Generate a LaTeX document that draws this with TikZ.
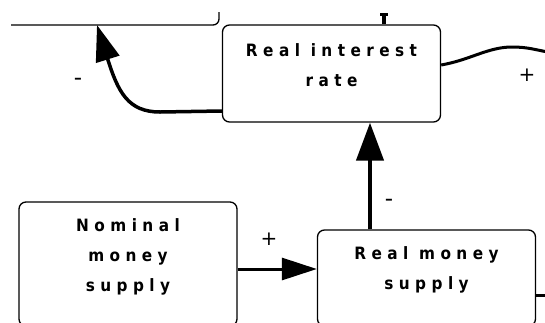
\documentclass[tikz,border=0pt]{standalone}
\usepackage{fontspec}
\setmainfont{DejaVu Sans}
\newfontfamily\boxfont[LetterSpace=32]{DejaVu Sans Condensed}
\usetikzlibrary{arrows.meta}
\tikzset{
  stock/.style={draw, line width=1.3pt, rounded corners=7pt,
    minimum width=218pt},
  stocktext/.style={align=center, inner sep=0pt,
    font=\boxfont\bfseries\fontsize{17pt}{30pt}\selectfont},
  link/.style={line width=3pt},
  sign/.style={font=\fontsize{20pt}{20pt}\selectfont, inner sep=0pt},
  minus/.style={font=\fontsize{23pt}{23pt}\selectfont, inner sep=0pt}
}
\begin{document}
\begin{tikzpicture}[x=1pt,y=-1pt]
\useasboundingbox (0,0) rectangle (545,322);

% boxes
\node[stock, minimum height=97pt] (rir) at (331.5,73.5) {};
\node[stocktext] (rirt) at (331.5,65.5) {Real interest\\rate};
\node[stock, minimum height=124pt] (nom) at (128,264) {};
\node[stocktext] (nomt) at (128,256.5) {Nominal\\money\\supply};
\node[stock, minimum height=96pt] (rms) at (426.5,278) {};
\node[stocktext] (rmst) at (426.5,269.5) {Real money\\supply};

% partly visible stock above, cut off at the top
\begin{scope}
  \clip (0,12) rectangle (545,322);
  \draw[line width=1.3pt, rounded corners=6pt] (11,25) -- (219,25) -- (219,0);
  \coordinate (up) at (97,25);
\end{scope}
\coordinate (tstem) at (384,24);
\draw[line width=4pt] (tstem) -- ++(0,-10);
\draw[line width=3pt] ([xshift=-4pt,yshift=9.5pt]tstem) -- ++(8,0);

% connectors
\coordinate (rirw) at (rir.west |- 0,111);
\draw[link, line width=3.5pt, -{Triangle[length=36pt,width=24pt]}] (rirw) -- (160,112)
  .. controls (128,112) and (118,92) .. (up);
\coordinate (rire) at (rir.east |- 0,65);
\coordinate (offr) at (548,52);
\draw[link] (rire) .. controls (470,60) and (488,47) .. (512,47)
  .. controls (528,47) and (536,50) .. (offr);
\draw[link, line width=4.5pt, -{Triangle[length=38pt,width=27pt]}]
  (rms.north -| 370,0) -- (rir.south -| 370,0);
\draw[link, -{Triangle[length=35pt,width=22pt]}]
  (nom.east |- 0,269) -- (rms.west |- 0,269);
\coordinate (rmse) at (rms.east |- 0,295);
\draw[line width=3pt] (rmse) -- ++(10,0);

% polarity signs
\node[minus] at (78,82) {-};
\node[sign] at (527,75) {+};
\node[sign] at (269,239) {+};
\node[minus] at (389,203) {-};
\end{tikzpicture}
\end{document}
